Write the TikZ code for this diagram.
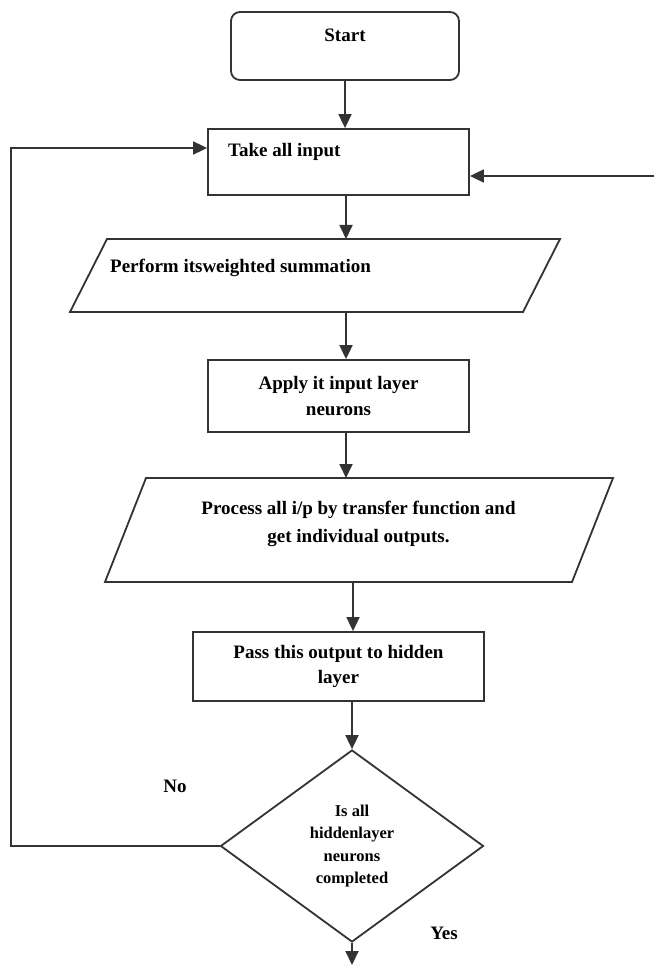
\documentclass[tikz,border=0pt]{standalone}
\usepackage{fontspec}
\setmainfont{Liberation Serif}
\usetikzlibrary{arrows.meta,shapes.geometric}
\definecolor{ln}{HTML}{333333}
\begin{document}
\begin{tikzpicture}[x=1pt,y=-1pt,
  every node/.style={font=\bfseries\fontsize{19}{25.5}\selectfont, text=black},
  box/.style={draw=ln, line width=1.8pt, rectangle, inner sep=0pt},
  shapeline/.style={draw=ln, line width=1.8pt, line join=miter},
  arr/.style={draw=ln, line width=1.8pt, -{Triangle[length=14pt,width=13pt]}}]
\useasboundingbox (0,0) rectangle (654,965);
% Start
\node[box, rounded corners=9pt, minimum width=228pt, minimum height=68pt] (start) at (345,46) {};
\node (starttxt) at (345,35) {Start};
% Take all input
\node[box, minimum width=261pt, minimum height=66pt] (take) at (338.5,162) {};
\node[anchor=west, inner sep=0pt] (taketxt) at (228,152) {Take all input};
% Parallelogram 1
\draw[shapeline] (70,312) -- (107,239) -- (560,239) -- (523,312) -- cycle;
\coordinate (p1top) at (346,239);
\coordinate (p1bot) at (346,312);
\node[anchor=west, inner sep=0pt] (p1txt) at (110,268) {Perform itsweighted summation};
% Apply
\node[box, minimum width=261pt, minimum height=72pt, align=center] (apply) at (338.5,396) {Apply it input layer\\neurons};
% Parallelogram 2
\draw[shapeline] (105,582) -- (146,478) -- (613,478) -- (572,582) -- cycle;
\coordinate (p2top) at (346,478);
\coordinate (p2bot) at (353,582);
\node[align=center, font=\bfseries\fontsize{19}{28}\selectfont] (p2txt) at (358.5,524) {Process all i/p by transfer function and\\get individual outputs.};
% Pass
\node[box, minimum width=291pt, minimum height=69pt, align=center] (pass) at (338.5,666.5) {Pass this output to hidden\\layer};
% Decision
\node[draw=ln, line width=1.8pt, diamond, minimum width=263pt, minimum height=192pt, inner sep=0pt, align=center, font=\bfseries\fontsize{16.5}{22.3}\selectfont] (dec) at (352,846) {Is all\\hiddenlayer\\neurons\\completed};
% Labels
\node (no) at (175,786) {No};
\node (yes) at (444,933) {Yes};
% Connectors
\draw[arr] (start.south) -- (start.south |- take.north);
\draw[arr] (take.south -| p1top) -- (p1top);
\draw[arr] (p1bot) -- (p1bot |- apply.north);
\draw[arr] (apply.south -| p2top) -- (p2top);
\draw[arr] (p2bot) -- (p2bot |- pass.north);
\draw[arr] (pass.south -| dec.north) -- (dec.north);
\coordinate (endpt) at (352,965);
\draw[arr] (dec.south) -- (endpt);
\coordinate (lc1) at (11,846);
\coordinate (lc2) at (11,148);
\draw[arr] (dec.west) -- (lc1) -- (lc2) -- (lc2 -| take.west);
\coordinate (rin) at (654,176);
\draw[arr] (rin) -- (rin -| take.east);
\end{tikzpicture}
\end{document}
